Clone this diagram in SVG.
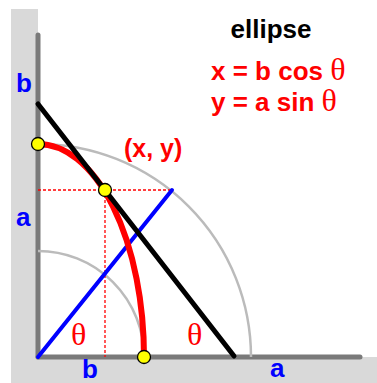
<svg xmlns="http://www.w3.org/2000/svg" width="377" height="383" viewBox="0 0 377 383">
<style>
.t{font-family:"Liberation Sans",Arial,sans-serif;font-weight:bold;}
.th{font-family:"Liberation Serif","Times New Roman",serif;font-weight:normal;}
.red{fill:#ff0000;}
.blue{fill:#0000ff;}
.arc{fill:none;stroke:#bbbbbb;stroke-width:2.5;}
.dot{fill:#ffff00;stroke:#000;stroke-width:1.3;}
</style>
<rect width="377" height="383" fill="#fff"/>
<path d="M11 9 H38 V357 H377 V383 H11 Z" fill="#d9d9d9"/>
<g id="axes" stroke="#7a7a7a" stroke-width="5" stroke-linecap="round">
<line x1="38" y1="35" x2="38" y2="357"/>
<line x1="38" y1="357" x2="360" y2="357"/>
</g>
<g id="circles">
<path class="arc" d="M38 144 A213 213 0 0 1 251 357"/>
<path class="arc" d="M38 251 A106 106 0 0 1 144 357"/>
</g>
<g id="connectors">
<line x1="38" y1="190" x2="172" y2="190" stroke="#ff0000" stroke-width="1.3" stroke-dasharray="3,2"/>
<line x1="105" y1="190" x2="105" y2="357" stroke="#ff0000" stroke-width="1.3" stroke-dasharray="3,2"/>
<line x1="38" y1="357" x2="172" y2="190" stroke="#0000ff" stroke-width="4" stroke-linecap="round"/>
<path d="M38 144 A106 213 0 0 1 144 357" fill="none" stroke="#ff0000" stroke-width="6"/>
<line x1="38" y1="104" x2="234" y2="356" stroke="#000" stroke-width="5" stroke-linecap="round"/>
</g>
<g id="points">
<circle class="dot" cx="38" cy="144" r="6.5"/>
<circle class="dot" cx="105" cy="190" r="6.5"/>
<circle class="dot" cx="144" cy="357" r="6.5"/>
</g>
<g id="labels">
<text class="t" x="271" y="38" font-size="26" text-anchor="middle" fill="#000">ellipse</text>
<text class="t red" x="211" y="80" font-size="26">x = b cos <tspan class="th" font-size="32">θ</tspan></text>
<text class="t red" x="211" y="111" font-size="26">y = a sin <tspan class="th" font-size="32">θ</tspan></text>
<text class="t red" x="124" y="157" font-size="25">(x, y)</text>
<text class="t blue" x="16" y="92" font-size="26">b</text>
<text class="t blue" x="16" y="226" font-size="26">a</text>
<text class="t blue" x="82" y="378" font-size="26">b</text>
<text class="t blue" x="270" y="377" font-size="26">a</text>
<text class="th red" x="71" y="345" font-size="32">θ</text>
<text class="th red" x="187" y="345" font-size="32">θ</text>
</g>
</svg>
